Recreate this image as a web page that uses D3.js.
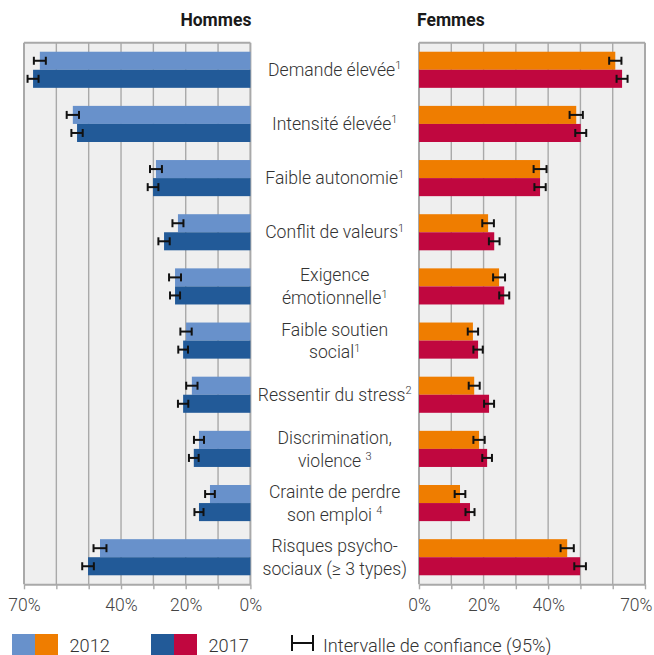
<!DOCTYPE html>
<html>
<head>
<meta charset="utf-8">
<script src="https://cdn.jsdelivr.net/npm/d3@7"></script>
<style>
  html, body { margin: 0; padding: 0; background: #ffffff; }
  svg { display: block; font-family: Roboto, "Noto Sans", sans-serif; }
</style>
</head>
<body>
<svg id="chart" width="654" height="655"></svg>
<script>
// ---- data ----
const categories = [
  ["Demande élevée", "1"],
  ["Intensité élevée", "1"],
  ["Faible autonomie", "1"],
  ["Conflit de valeurs", "1"],
  ["Exigence|émotionnelle", "1"],
  ["Faible soutien|social", "1"],
  ["Ressentir du stress", "2"],
  ["Discrimination,|violence ", "3"],
  ["Crainte de perdre|son emploi ", "4"],
  ["Risques psycho-|sociaux (≥ 3 types)", ""]
];
const hommes2012 = [65.1, 54.9, 29.2, 22.4, 23.3, 19.9, 18.1, 15.9, 12.5, 46.5];
const hommes2017 = [67.2, 53.6, 30.1, 26.7, 23.3, 20.8, 20.8, 17.5, 15.9, 50.2];
const femmes2012 = [60.8, 48.7, 37.5, 21.4, 24.8, 16.7, 17.1, 18.6, 12.7, 45.9];
const femmes2017 = [62.9, 50.1, 37.5, 23.3, 26.4, 18.3, 21.7, 21.1, 15.8, 49.9];
// half-width of 95% confidence intervals (percentage points)
const ciH2012 = [1.85, 1.9, 1.85, 1.7, 1.85, 1.75, 1.75, 1.55, 1.5, 2.0];
const ciH2017 = [1.7, 1.75, 1.65, 1.75, 1.55, 1.5, 1.6, 1.5, 1.4, 1.8];
const ciF2012 = [1.9, 2.05, 2.0, 1.8, 1.85, 1.6, 1.7, 1.75, 1.65, 2.05];
const ciF2017 = [1.7, 1.7, 1.75, 1.65, 1.55, 1.45, 1.55, 1.5, 1.4, 1.8];
const years = ["2012", "2017"];
const gridValues = [0, 10, 20, 30, 40, 50, 60, 70];
const labeledTicks = [0, 20, 40, 70];
const panelTitles = ["Hommes", "Femmes"];
const legendCI = "Intervalle de confiance (95%)";

// ---- styles ----
const colors = {
  h2012: "#6891cb", h2017: "#225a98",
  f2012: "#ef7d00", f2017: "#c0073f"
};
const gridColor = "#a9a9a9";
const panelBg = "#efefef";
const textColor = "#333333";

const svg = d3.select("#chart");
const plotTop = 42.7, plotBottom = 584.3;

const y = d3.scaleBand()
  .domain(d3.range(categories.length))
  .range([plotTop, plotBottom])
  .paddingInner(1 / 3)
  .paddingOuter(1 / 6);
const ySub = d3.scaleBand().domain(years).range([0, y.bandwidth()]);

const xL = d3.scaleLinear().domain([70, 0]).range([24, 250.4]);
const xR = d3.scaleLinear().domain([0, 70]).range([419, 645]);

function drawPanel(x, v2012, v2017, ci2012, ci2017, c2012, c2017, side) {
  const g = svg.append("g");
  const [x0, x1] = x.range();
  const left = Math.min(x0, x1), right = Math.max(x0, x1);
  g.append("rect").attr("x", left).attr("y", plotTop)
    .attr("width", right - left).attr("height", plotBottom - plotTop)
    .attr("fill", panelBg);
  g.selectAll("line.grid").data(gridValues).join("line")
    .attr("class", "grid")
    .attr("x1", d => x(d)).attr("x2", d => x(d))
    .attr("y1", plotTop).attr("y2", plotBottom)
    .attr("stroke", gridColor)
    .attr("stroke-width", d => (d === 0 || d === 70) ? 2 : 1.4);
  g.append("line").attr("x1", left).attr("x2", right).attr("y1", plotTop).attr("y2", plotTop)
    .attr("stroke", gridColor).attr("stroke-width", 2);

  const series = [[v2012, ci2012, c2012, "2012"], [v2017, ci2017, c2017, "2017"]];
  series.forEach(([vals, cis, col, yr]) => {
    g.selectAll(null).data(vals).join("rect")
      .attr("x", d => Math.min(x(0), x(d)))
      .attr("width", d => Math.abs(x(d) - x(0)))
      .attr("y", (d, i) => y(i) + ySub(yr))
      .attr("height", ySub.bandwidth())
      .attr("fill", col);
    const ciG = g.selectAll(null).data(vals).join("g")
      .attr("transform", (d, i) => `translate(0,${y(i) + ySub(yr) + ySub.bandwidth() / 2})`);
    ciG.append("line")
      .attr("x1", (d, i) => x(d - cis[i])).attr("x2", (d, i) => x(d + cis[i]))
      .attr("y1", 0).attr("y2", 0)
      .attr("stroke", "#111").attr("stroke-width", 2);
    [-1, 1].forEach(s => {
      ciG.append("line")
        .attr("x1", (d, i) => x(d + s * cis[i])).attr("x2", (d, i) => x(d + s * cis[i]))
        .attr("y1", -4).attr("y2", 4)
        .attr("stroke", "#111").attr("stroke-width", 2);
    });
  });

  const axis = d3.axisBottom(x)
    .tickValues(gridValues)
    .tickSize(5)
    .tickSizeOuter(0)
    .tickFormat(d => labeledTicks.includes(d) ? d + "%" : "");
  const ax = g.append("g").attr("transform", `translate(0,${plotBottom})`).call(axis);
  ax.select(".domain").attr("stroke", gridColor).attr("stroke-width", 2);
  ax.selectAll(".tick line").attr("stroke", gridColor).attr("stroke-width", 1.4);
  ax.selectAll(".tick text")
    .attr("y", 14)
    .attr("dy", "0.71em")
    .attr("fill", "#444")
    .style("font-size", "17.5px")
    .style("font-weight", 300)
    .style("font-family", "Roboto, sans-serif");
  if (side === "right") {
    ax.selectAll(".tick").filter(d => d === 70).select("text")
      .attr("text-anchor", "end").attr("x", 652 - x(70));
  }

  svg.append("text")
    .attr("x", side === "left" ? right + 1 : left - 2)
    .attr("y", 25.5)
    .attr("text-anchor", side === "left" ? "end" : "start")
    .attr("fill", "#1a1a1a")
    .style("font-size", "17.5px")
    .style("font-weight", 700)
    .text(side === "left" ? panelTitles[0] : panelTitles[1]);
}

drawPanel(xL, hommes2012, hommes2017, ciH2012, ciH2017, colors.h2012, colors.h2017, "left");
drawPanel(xR, femmes2012, femmes2017, ciF2012, ciF2017, colors.f2012, colors.f2017, "right");

// ---- category labels ----
const cx = (xL(0) + xR(0)) / 2;
categories.forEach(([label, sup], i) => {
  const lines = label.split("|");
  const center = y(i) + y.bandwidth() / 2;
  const t = svg.append("text")
    .attr("text-anchor", "middle")
    .attr("fill", textColor)
    .style("font-size", "17.6px")
    .style("font-weight", 300);
  lines.forEach((ln, k) => {
    const baseline = lines.length === 1 ? center + 6 : center - 5 + k * 22.6;
    t.append("tspan").attr("x", cx).attr("y", baseline).text(ln);
    if (k === lines.length - 1 && sup) {
      t.append("tspan").attr("dy", -6.5).style("font-size", "11px").text(sup);
    }
  });
});

// ---- legend ----
const lg = svg.append("g");
const swY = 634, swH = 21, swW = 23;
[[12, [colors.h2012, colors.f2012], years[0]], [151, [colors.h2017, colors.f2017], years[1]]]
  .forEach(([lx, cols, yr]) => {
    cols.forEach((c, k) => {
      lg.append("rect").attr("x", lx + k * swW).attr("y", swY)
        .attr("width", swW).attr("height", swH).attr("fill", c);
    });
    lg.append("text").attr("x", lx + 2 * swW + 11.5).attr("y", 651.7)
      .attr("fill", textColor).style("font-size", "18.2px").style("font-weight", 300)
      .text(yr);
  });
lg.append("line").attr("x1", 292).attr("x2", 313).attr("y1", 643).attr("y2", 643)
  .attr("stroke", "#111").attr("stroke-width", 2);
[292, 313].forEach(px => {
  lg.append("line").attr("x1", px).attr("x2", px).attr("y1", 635).attr("y2", 651)
    .attr("stroke", "#111").attr("stroke-width", 2);
});
lg.append("text").attr("x", 323).attr("y", 651.7)
  .attr("fill", textColor).style("font-size", "18.2px").style("font-weight", 300)
  .text(legendCI);
</script>
</body>
</html>
